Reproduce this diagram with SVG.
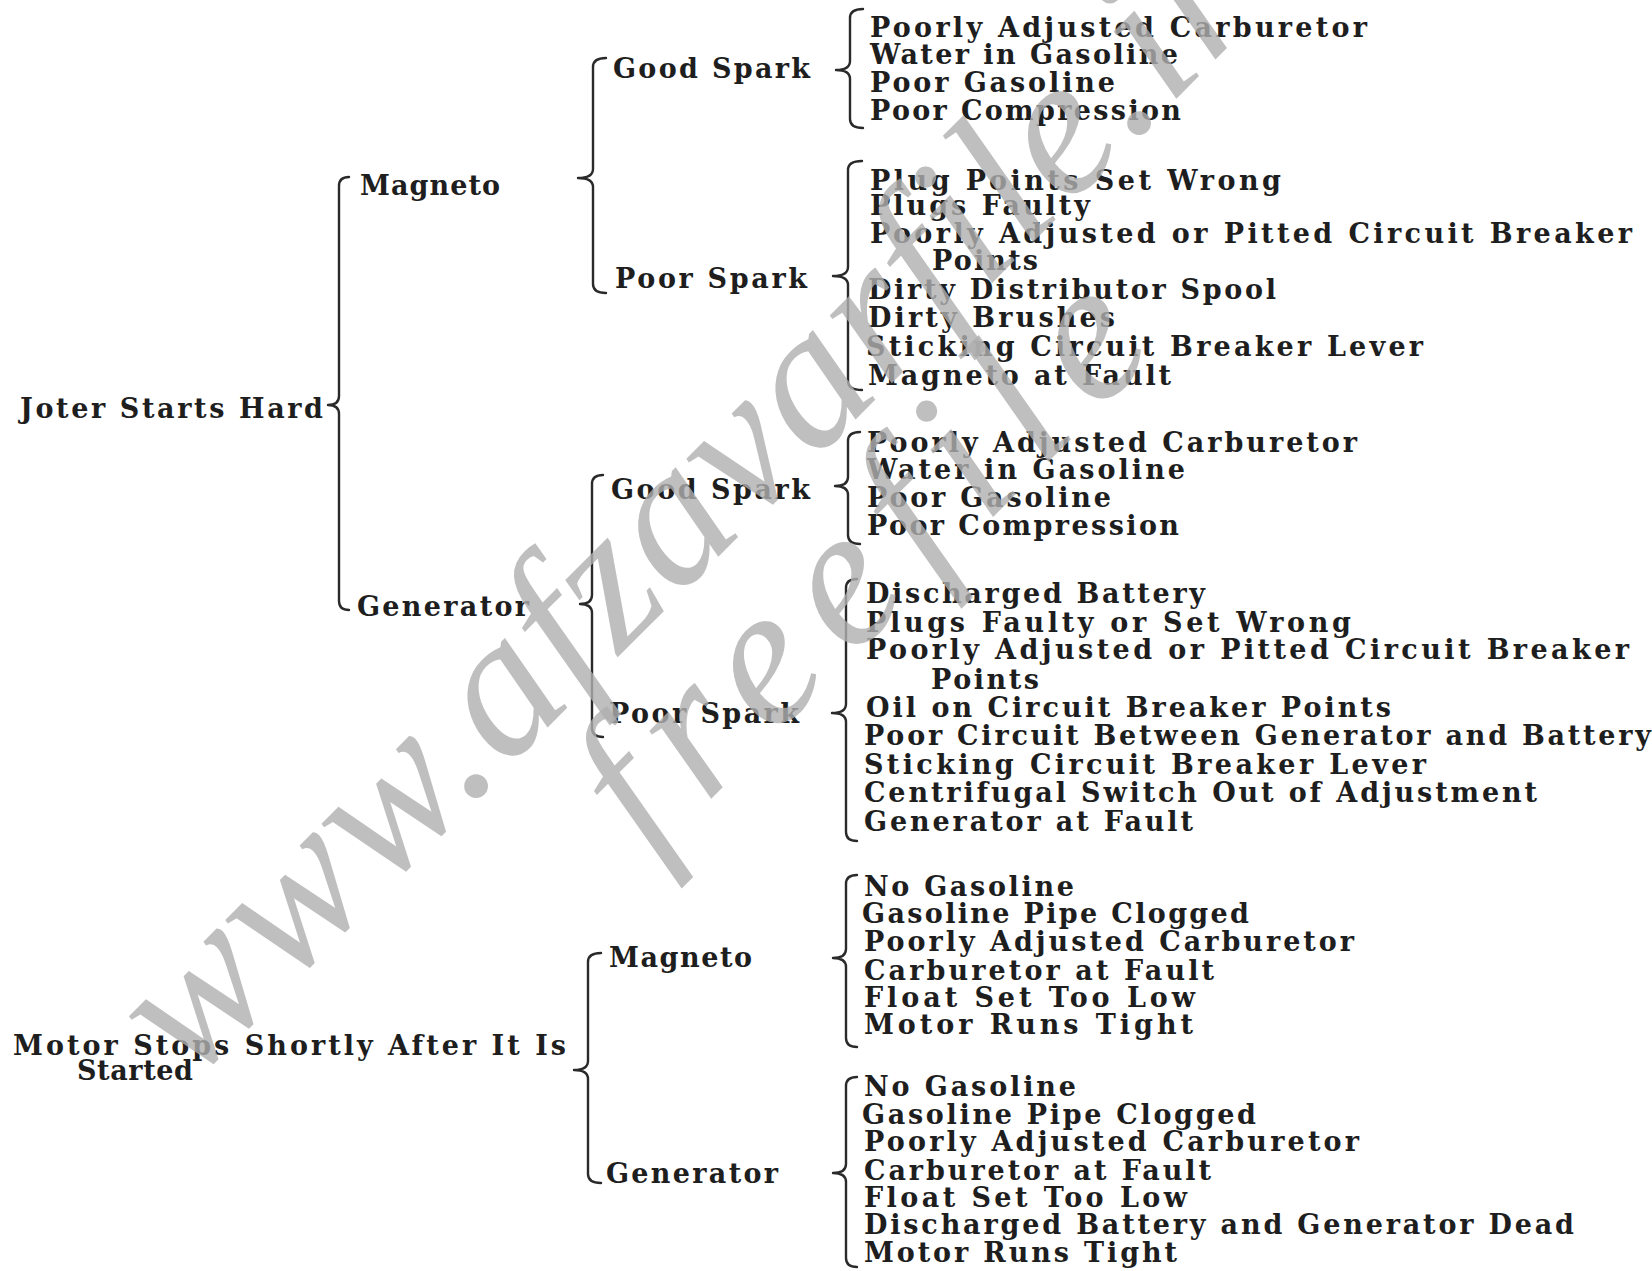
<svg xmlns="http://www.w3.org/2000/svg" width="1652" height="1271" viewBox="0 0 1652 1271">
<style>
.t{font-family:"DejaVu Serif","Liberation Serif",serif;font-weight:bold;font-size:27px;fill:#1e1e1e}
.b{fill:none;stroke:#2a2a2a;stroke-width:2.4;stroke-linecap:round;stroke-linejoin:round}
.wm{font-family:"Liberation Serif",serif;font-style:italic;font-size:200px;fill:#b0b0b0;opacity:.8}
</style>
<rect width="1652" height="1271" fill="#ffffff"/>
<g id="connectors">
<path class="b" d="M349,177 Q339,177 339,186 L339,396 Q339,405 328,405 Q339,405 339,414 L339,601 Q339,610 349,610"/>
<path class="b" d="M606,58 Q593,58 593,67 L593,169 Q593,178 578,178 Q593,178 593,187 L593,284 Q593,293 606,293"/>
<path class="b" d="M603,475 Q592,475 592,484 L592,595 Q592,604 580,604 Q592,604 592,613 L592,728 Q592,737 603,737"/>
<path class="b" d="M863,9 Q850,9 850,18 L850,61 Q850,70 836,70 Q850,70 850,79 L850,119 Q850,128 863,128"/>
<path class="b" d="M862,161 Q848,161 848,170 L848,267 Q848,276 833,276 Q848,276 848,285 L848,381 Q848,390 862,390"/>
<path class="b" d="M860,432 Q848,432 848,441 L848,477 Q848,486 835,486 Q848,486 848,495 L848,535 Q848,544 860,544"/>
<path class="b" d="M857,579 Q846,579 846,588 L846,704 Q846,713 832,713 Q846,713 846,722 L846,832 Q846,841 857,841"/>
<path class="b" d="M857,875 Q846,875 846,884 L846,949 Q846,958 833,958 Q846,958 846,967 L846,1038 Q846,1047 857,1047"/>
<path class="b" d="M857,1077 Q846,1077 846,1086 L846,1164 Q846,1173 833,1173 Q846,1173 846,1182 L846,1258 Q846,1267 857,1267"/>
<path class="b" d="M601,953 Q588,953 588,962 L588,1061 Q588,1070 574,1070 Q588,1070 588,1079 L588,1174 Q588,1183 601,1183"/>
</g>
<g id="root-starts-hard"><text class="t" x="20" y="418" textLength="303">Joter Starts Hard</text></g>
<g id="root-motor-stops"><text class="t" x="13" y="1055" textLength="553">Motor Stops Shortly After It Is</text><text class="t" x="77" y="1080" textLength="116">Started</text></g>
<g id="sh-magneto"><text class="t" x="360" y="195" textLength="140">Magneto</text></g>
<g id="sh-generator"><text class="t" x="357" y="616" textLength="172">Generator</text></g>
<g id="ms-magneto"><text class="t" x="609" y="967" textLength="143">Magneto</text></g>
<g id="ms-generator"><text class="t" x="606" y="1183" textLength="172">Generator</text></g>
<g id="mag-good-spark"><text class="t" x="613" y="78" textLength="197">Good Spark</text></g>
<g id="mag-poor-spark"><text class="t" x="615" y="288" textLength="192">Poor Spark</text></g>
<g id="gen-good-spark"><text class="t" x="611" y="499" textLength="199">Good Spark</text></g>
<g id="gen-poor-spark"><text class="t" x="609" y="723" textLength="190">Poor Spark</text></g>
<g id="list-mag-good">
<text class="t" x="870" y="37" textLength="497">Poorly Adjusted Carburetor</text>
<text class="t" x="870" y="64" textLength="308">Water in Gasoline</text>
<text class="t" x="870" y="92" textLength="245">Poor Gasoline</text>
<text class="t" x="870" y="120" textLength="311">Poor Compression</text>
</g>
<g id="list-mag-poor">
<text class="t" x="870" y="190" textLength="411">Plug Points Set Wrong</text>
<text class="t" x="870" y="215" textLength="220">Plugs Faulty</text>
<text class="t" x="870" y="243" textLength="762">Poorly Adjusted or Pitted Circuit Breaker</text>
<text class="t" x="932" y="270" textLength="106">Points</text>
<text class="t" x="868" y="299" textLength="408">Dirty Distributor Spool</text>
<text class="t" x="868" y="327" textLength="247">Dirty Brushes</text>
<text class="t" x="866" y="356" textLength="557">Sticking Circuit Breaker Lever</text>
<text class="t" x="868" y="385" textLength="303">Magneto at Fault</text>
</g>
<g id="list-gen-good">
<text class="t" x="867" y="452" textLength="490">Poorly Adjusted Carburetor</text>
<text class="t" x="867" y="479" textLength="318">Water in Gasoline</text>
<text class="t" x="867" y="507" textLength="244">Poor Gasoline</text>
<text class="t" x="867" y="535" textLength="312">Poor Compression</text>
</g>
<g id="list-gen-poor">
<text class="t" x="866" y="603" textLength="339">Discharged Battery</text>
<text class="t" x="866" y="632" textLength="485">Plugs Faulty or Set Wrong</text>
<text class="t" x="866" y="659" textLength="763">Poorly Adjusted or Pitted Circuit Breaker</text>
<text class="t" x="931" y="689" textLength="108">Points</text>
<text class="t" x="866" y="717" textLength="525">Oil on Circuit Breaker Points</text>
<text class="t" x="864" y="745" textLength="787">Poor Circuit Between Generator and Battery</text>
<text class="t" x="864" y="774" textLength="562">Sticking Circuit Breaker Lever</text>
<text class="t" x="864" y="802" textLength="673">Centrifugal Switch Out of Adjustment</text>
<text class="t" x="864" y="831" textLength="329">Generator at Fault</text>
</g>
<g id="list-ms-magneto">
<text class="t" x="864" y="896" textLength="210">No Gasoline</text>
<text class="t" x="862" y="923" textLength="387">Gasoline Pipe Clogged</text>
<text class="t" x="864" y="951" textLength="490">Poorly Adjusted Carburetor</text>
<text class="t" x="864" y="980" textLength="350">Carburetor at Fault</text>
<text class="t" x="864" y="1007" textLength="331">Float Set Too Low</text>
<text class="t" x="864" y="1034" textLength="329">Motor Runs Tight</text>
</g>
<g id="list-ms-generator">
<text class="t" x="864" y="1096" textLength="212">No Gasoline</text>
<text class="t" x="862" y="1124" textLength="394">Gasoline Pipe Clogged</text>
<text class="t" x="864" y="1151" textLength="495">Poorly Adjusted Carburetor</text>
<text class="t" x="864" y="1180" textLength="347">Carburetor at Fault</text>
<text class="t" x="864" y="1207" textLength="323">Float Set Too Low</text>
<text class="t" x="864" y="1234" textLength="710">Discharged Battery and Generator Dead</text>
<text class="t" x="864" y="1262" textLength="313">Motor Runs Tight</text>
</g>
<g id="watermark">
<text class="wm" transform="translate(190,1085) rotate(-45)" x="0" y="0" textLength="1520">www.afzavarfile.ir</text>
<text class="wm" transform="translate(650,860) rotate(-45)" x="0" y="0" textLength="720">freefile</text>
</g>
</svg>
